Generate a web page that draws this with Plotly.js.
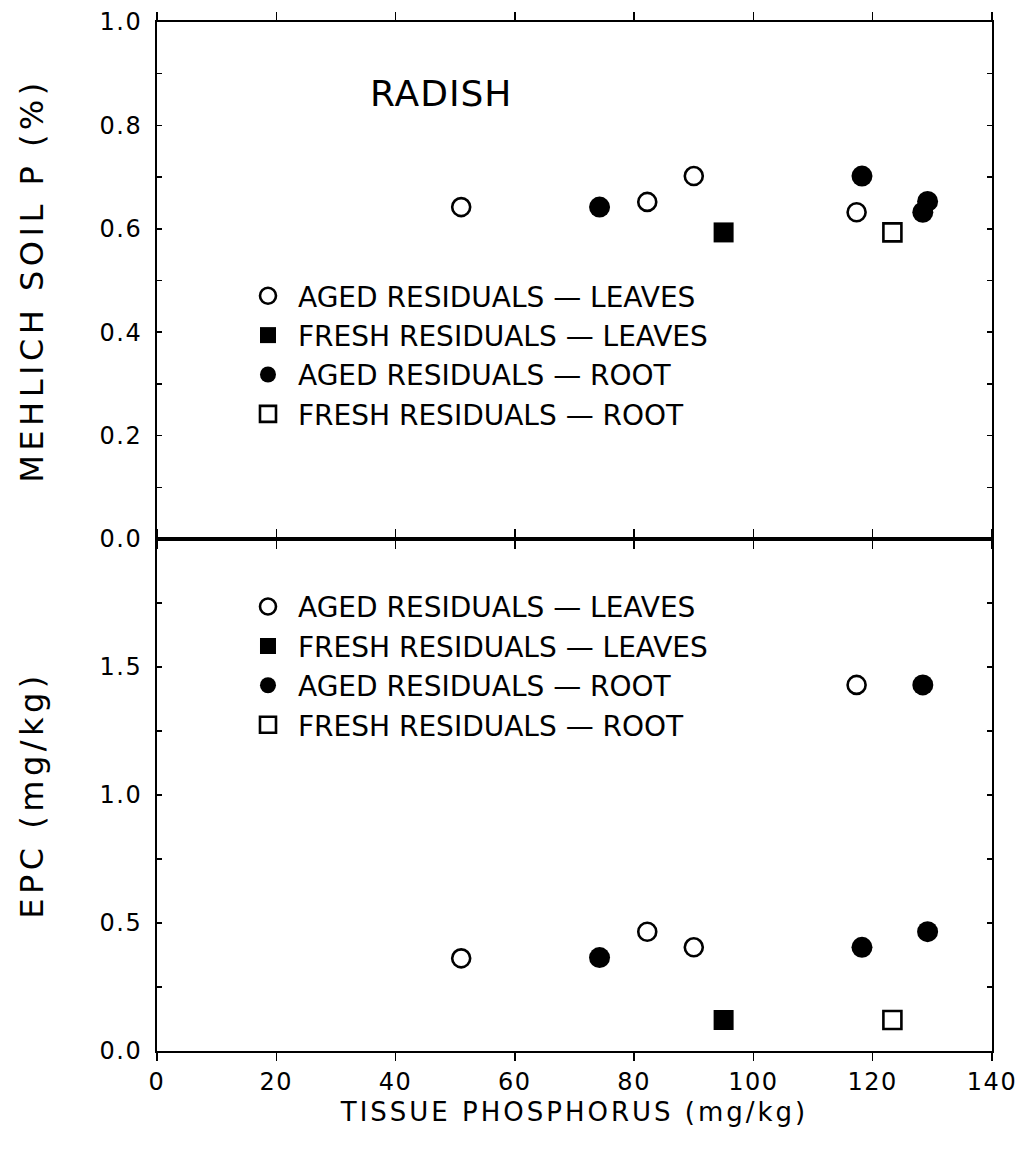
<!DOCTYPE html>
<html>
<head>
<meta charset="utf-8">
<script src="https://cdn.plot.ly/plotly-3.0.1.min.js"></script>
<style>
  html, body { margin: 0; padding: 0; background: #fff; }
  #chart { width: 1023px; height: 1163px; }
  .xtitle { letter-spacing: 3px; }
  .ytitle, .y2title { letter-spacing: 4.5px; }
  .annotation-text { letter-spacing: 1px; }
  .xtick text, .ytick text, .y2tick text { letter-spacing: 1.5px; }
</style>
</head>
<body>
<div id="chart"></div>
<script>
// ---- data ----
const seriesNames = [
  "AGED RESIDUALS — LEAVES",
  "FRESH RESIDUALS — LEAVES",
  "AGED RESIDUALS — ROOT",
  "FRESH RESIDUALS — ROOT"
];
// Tissue phosphorus (mg/kg)
const agedLeavesP  = [51.0, 82.2, 90.0, 117.3];
const freshLeavesP = [95.0];
const agedRootP    = [74.2, 118.2, 128.4, 129.2];
const freshRootP   = [123.3];
// Mehlich soil P (%)
const agedLeavesMehlich  = [0.642, 0.652, 0.702, 0.632];
const freshLeavesMehlich = [0.593];
const agedRootMehlich    = [0.642, 0.702, 0.632, 0.653];
const freshRootMehlich   = [0.593];
// EPC (mg/kg)
const agedLeavesEPC  = [0.362, 0.466, 0.405, 1.43];
const freshLeavesEPC = [0.121];
const agedRootEPC    = [0.365, 0.405, 1.43, 0.466];
const freshRootEPC   = [0.121];

// axis ticks
const xTickVals = [0, 20, 40, 60, 80, 100, 120, 140];
const xTickText = ["0", "20", "40", "60", "80", "100", "120", "140"];
const mehlichTickVals = [0, 0.1, 0.2, 0.3, 0.4, 0.5, 0.6, 0.7, 0.8, 0.9, 1.0];
const mehlichTickText = ["0.0", "", "0.2", "", "0.4", "", "0.6", "", "0.8", "", "1.0"];
const epcTickVals = [0, 0.25, 0.5, 0.75, 1.0, 1.25, 1.5, 1.75, 2.0];
const epcTickText = ["0.0", "", "0.5", "", "1.0", "", "1.5", "", ""];

// ---- styling ----
const FONT = "DejaVu Sans, Liberation Sans, Arial, sans-serif";
const styles = [
  { symbol: "circle-open", size: 18, line: { color: "#000", width: 2.6 }, color: "#000" },
  { symbol: "square", size: 20, line: { color: "#000", width: 0 }, color: "#000" },
  { symbol: "circle", size: 21, line: { color: "#000", width: 0 }, color: "#000" },
  { symbol: "square-open", size: 18, line: { color: "#000", width: 2.6 }, color: "#000" }
];

const topX = [agedLeavesP, freshLeavesP, agedRootP, freshRootP];
const topY = [agedLeavesMehlich, freshLeavesMehlich, agedRootMehlich, freshRootMehlich];
const botY = [agedLeavesEPC, freshLeavesEPC, agedRootEPC, freshRootEPC];

const traces = [];
for (let i = 0; i < 4; i++) {
  traces.push({
    type: "scatter", mode: "markers", name: seriesNames[i],
    x: topX[i], y: topY[i], xaxis: "x2", yaxis: "y2",
    legend: "legend", legendgroup: "t" + i,
    marker: styles[i], cliponaxis: false, hoverinfo: "x+y"
  });
}
for (let i = 0; i < 4; i++) {
  traces.push({
    type: "scatter", mode: "markers", name: seriesNames[i],
    x: topX[i], y: botY[i], xaxis: "x", yaxis: "y",
    legend: "legend2", legendgroup: "b" + i,
    marker: styles[i], cliponaxis: false, hoverinfo: "x+y"
  });
}

const split = 512 / 1029;
const axLine = { showline: true, linecolor: "#000", linewidth: 2, showgrid: false, zeroline: false };
const TICKFONT = { family: FONT, size: 24 };

const legendBase = {
  x: 0.097, xanchor: "left", yanchor: "top",
  xref: "paper", yref: "paper",
  bgcolor: "rgba(0,0,0,0)", borderwidth: 0,
  font: { family: FONT, size: 28 },
  itemwidth: 50,
  traceorder: "grouped", tracegroupgap: 0
};

const layout = {
  width: 1023, height: 1163,
  paper_bgcolor: "#fff", plot_bgcolor: "#fff",
  margin: { l: 157, r: 31, t: 22, b: 112 },
  font: { family: FONT, color: "#000", size: 22 },
  showlegend: true,
  // bottom panel x axis (with labels)
  xaxis: Object.assign({}, axLine, {
    domain: [0, 1], anchor: "y", range: [0, 140],
    tickmode: "array", tickvals: xTickVals, ticktext: xTickText,
    ticks: "outside", ticklen: 8, tickwidth: 1.5, tickcolor: "#000",
    mirror: "ticks",
    tickfont: TICKFONT,
    title: { text: "TISSUE PHOSPHORUS (mg/kg)", font: { family: FONT, size: 26 }, standoff: 8 }
  }),
  yaxis: Object.assign({}, axLine, {
    domain: [0, split], anchor: "x", range: [0, 2.0],
    tickmode: "array", tickvals: epcTickVals, ticktext: epcTickText,
    ticks: "inside", ticklen: 5, tickwidth: 1.5, tickcolor: "#000",
    mirror: "ticks", ticklabelstandoff: 8,
    tickfont: TICKFONT,
    title: { text: "EPC (mg/kg)", font: { family: FONT, size: 32 }, standoff: 46 }
  }),
  // top panel
  xaxis2: Object.assign({}, axLine, {
    domain: [0, 1], anchor: "y2", range: [0, 140],
    tickmode: "array", tickvals: xTickVals,
    ticks: "outside", ticklen: 8, tickwidth: 1.5, tickcolor: "#000",
    mirror: "ticks", showticklabels: false
  }),
  yaxis2: Object.assign({}, axLine, {
    domain: [split, 1], anchor: "x2", range: [0, 1.0],
    tickmode: "array", tickvals: mehlichTickVals, ticktext: mehlichTickText,
    ticks: "inside", ticklen: 5, tickwidth: 1.5, tickcolor: "#000",
    mirror: "ticks", ticklabelstandoff: 8,
    tickfont: TICKFONT,
    title: { text: "MEHLICH SOIL P (%)", font: { family: FONT, size: 32 }, standoff: 46 }
  }),
  // overlay axes providing the inner half of crossing ticks
  xaxis3: {
    overlaying: "x", anchor: "y", side: "bottom", range: [0, 140],
    tickmode: "array", tickvals: xTickVals, showticklabels: false,
    ticks: "inside", ticklen: 8, tickwidth: 1.5, tickcolor: "#000",
    showline: false, showgrid: false, zeroline: false
  },
  xaxis4: {
    overlaying: "x2", anchor: "y2", side: "top", range: [0, 140],
    tickmode: "array", tickvals: xTickVals, showticklabels: false,
    ticks: "inside", ticklen: 8, tickwidth: 1.5, tickcolor: "#000",
    showline: false, showgrid: false, zeroline: false
  },
  legend: Object.assign({}, legendBase, { y: 0.758 }),
  legend2: Object.assign({}, legendBase, { y: 0.456 }),
  annotations: [{
    text: "RADISH", xref: "x2 domain", yref: "y2 domain",
    x: 0.34, y: 0.862, xanchor: "center", yanchor: "middle",
    showarrow: false, font: { family: FONT, size: 36, color: "#000" }
  }]
};

Plotly.newPlot("chart", traces, layout, { displayModeBar: false, staticPlot: true });
</script>
</body>
</html>
